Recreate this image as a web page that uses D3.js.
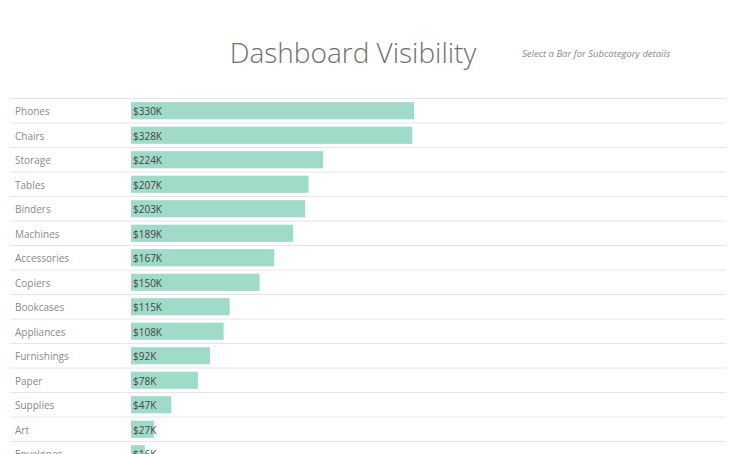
<!DOCTYPE html>
<html><head><meta charset="utf-8">
<script src="https://cdn.jsdelivr.net/npm/d3@7"></script>
<style>
html,body{margin:0;padding:0;background:#fff;overflow:hidden;}
svg{display:block;}
</style></head>
<body>
<svg id="chart" width="736" height="454"></svg>
<script>
const categories = ["Phones","Chairs","Storage","Tables","Binders","Machines","Accessories","Copiers","Bookcases","Appliances","Furnishings","Paper","Supplies","Art","Envelopes"];
const sales = [330,328,224,207,203,189,167,150,115,108,92,78,47,27,16];
const valueLabels = ["$330K","$328K","$224K","$207K","$203K","$189K","$167K","$150K","$115K","$108K","$92K","$78K","$47K","$27K","$16K"];
const titleText = "Dashboard Visibility";
const subtitleText = "Select a Bar for Subcategory details";

(function(){
const svg = d3.select("#chart");
const font = "'Open Sans', 'Noto Sans', sans-serif";

svg.append("text").attr("x",353).attr("y",63).attr("text-anchor","middle")
  .attr("font-family",font).attr("font-size",28).attr("font-weight",300)
  .attr("fill","#6f6f6f").text(titleText);
svg.append("text").attr("x",522).attr("y",57)
  .attr("font-family",font).attr("font-size",9.5).attr("font-style","italic")
  .attr("fill","#8a8a8a").text(subtitleText);

const y0 = 98.5, step = 24.5;
const y = d3.scaleBand().domain(categories).range([y0, y0 + step*categories.length]).paddingInner(0.3).paddingOuter(0.15);
const x = d3.scaleLinear().domain([0,330]).range([131,414]);

const g = svg.append("g");
const seps = d3.range(categories.length+1).map(i => y0 + i*step);
g.selectAll("line.sep").data(seps).join("line").attr("class","sep")
  .attr("x1",10).attr("x2",726).attr("y1",d=>d).attr("y2",d=>d)
  .attr("stroke","#e6e6e6").attr("stroke-width",1);

g.selectAll("rect.bar").data(categories).join("rect").attr("class","bar")
  .attr("x",x(0)).attr("y",d=>y(d)).attr("height",y.bandwidth())
  .attr("width",(d,i)=>x(sales[i])-x(0)).attr("fill","#a0dac9");

g.selectAll("text.cat").data(categories).join("text").attr("class","cat")
  .attr("x",15).attr("y",d=>y(d)+y.bandwidth()/2+1).attr("dy","0.35em")
  .attr("font-family",font).attr("font-size",10).attr("fill","#8a8a8a").text(d=>d);

g.selectAll("text.val").data(categories).join("text").attr("class","val")
  .attr("x",x(0)+2).attr("y",d=>y(d)+y.bandwidth()/2+1).attr("dy","0.35em")
  .attr("font-family",font).attr("font-size",10).attr("fill","#444").text((d,i)=>valueLabels[i]);
})();
</script>
</body></html>
